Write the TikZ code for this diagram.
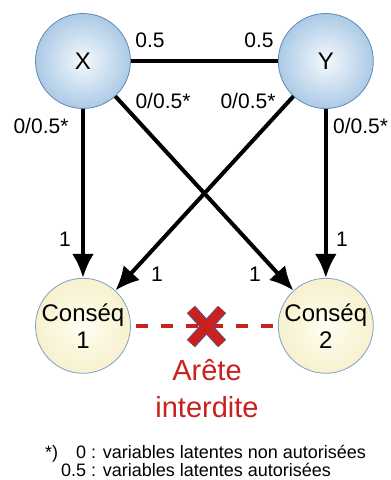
\documentclass[tikz,border=0pt]{standalone}
\usepackage{fontspec}
\setmainfont{Liberation Sans}
\usetikzlibrary{arrows.meta, positioning}

\definecolor{ballblue}{HTML}{649BCE}
\definecolor{balllight}{HTML}{F4F9FD}
\definecolor{conseqyellow}{HTML}{EFE4A8}
\definecolor{conseqlight}{HTML}{FFFEF2}
\definecolor{rimblue}{HTML}{5E89B8}
\definecolor{forbidred}{HTML}{C9211E}
\definecolor{crossrim}{HTML}{5A4C96}

\pgfdeclareradialshading{varshade}{\pgfpoint{0bp}{0bp}}{color(0bp)=(balllight); color(50bp)=(ballblue)}
\pgfdeclareradialshading{conseqshade}{\pgfpoint{0bp}{0bp}}{color(0bp)=(conseqlight); color(50bp)=(conseqyellow)}

\begin{document}
\begin{tikzpicture}[x=1pt, y=-1pt,
		varnode/.style={circle, draw=rimblue, line width=0.8pt, shading=varshade, inner sep=0pt, minimum size=95pt, font=\fontsize{24}{27}\selectfont},
		conseq/.style={circle, draw=rimblue!80, line width=0.8pt, shading=conseqshade, inner sep=0pt, minimum size=95pt, align=center, font=\fontsize{24}{27}\selectfont},
		link/.style={line width=4pt},
		effect/.style={line width=4pt, -{Latex[length=24pt, width=22pt]}},
		weight/.style={inner sep=0pt, font=\fontsize{21}{24}\selectfont},
		forbidden/.style={draw=forbidred, line width=3.5pt, dash pattern=on 12pt off 13pt},
		warning/.style={text=forbidred, inner sep=0pt, font=\fontsize{29}{35}\selectfont}
		]
		\useasboundingbox (0,0) rectangle (391,480);
		\node [varnode] (x) at (83,61) {X};
		\node [varnode] (y) [right=147pt of x] {Y};
		\node [conseq] (c1) [below=169pt of x] {Conséq\\1};
		\node [conseq] (c2) [below=169pt of y] {Conséq\\2};

		\draw [link] (x) -- (y);
		\draw [effect] (x) -- (c1);
		\draw [effect] (x) -- (c2);
		\draw [effect] (y) -- (c1);
		\draw [effect] (y) -- (c2);
		\draw [forbidden, shorten <=5pt] (c1) -- (c2);

		% the red cross over the forbidden edge
		\coordinate (ban) at (206.5,326.5);
		\draw [crossrim, line width=11pt] (ban) ++(-15.5,-17) -- ++(31,34) (ban) ++(15.5,-17) -- ++(-31,34);
		\draw [forbidred, line width=9pt] (ban) ++(-15.5,-17) -- ++(31,34) (ban) ++(15.5,-17) -- ++(-31,34);

		\node [weight] (wxy) at (150,40) {0.5};
		\node [weight] (wyx) at (259,40) {0.5};
		\node [weight] (wxc2) at (163,101) {0/0.5*};
		\node [weight] (wyc1) at (248,101) {0/0.5*};
		\node [weight] (wxc1) at (41,126) {0/0.5*};
		\node [weight, anchor=west] (wyc2) at (333,126) {0/0.5*};
		\node [weight] (ixc1) at (65,239.5) {1};
		\node [weight] (iyc2) at (342,239.5) {1};
		\node [weight] (iyc1) at (157,274) {1};
		\node [weight] (ixc2) at (255,274) {1};

		\node [warning, anchor=base] (bantop) at (207,380) {Arête};
		\node [warning, anchor=base] (banbottom) at (207,417) {interdite};

		\node [inner sep=0pt, anchor=base west, font=\fontsize{18}{18}\selectfont] (star) at (45,458) {*)};
		\node [inner sep=0pt, anchor=base west, font=\fontsize{18}{18}\selectfont] (legend) at (61,458)
			{\begin{tabular}[t]{@{}r@{ : }l@{}}0 & variables latentes non autorisées\\0.5 & variables latentes autorisées\end{tabular}};
	\end{tikzpicture}
\end{document}
